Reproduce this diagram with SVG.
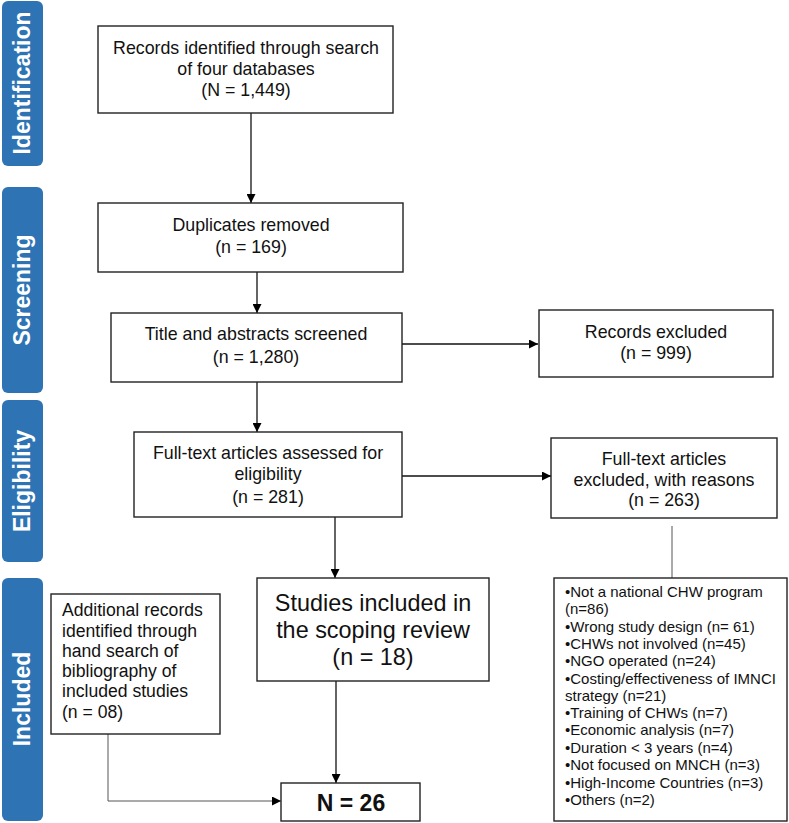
<svg xmlns="http://www.w3.org/2000/svg" width="789" height="823" viewBox="0 0 789 823">
<defs>
<marker id="ah" viewBox="0 0 10 10" refX="10" refY="5" markerWidth="9" markerHeight="9" markerUnits="userSpaceOnUse" orient="auto">
<path d="M0,0 L10,5 L0,10 z" fill="#000"/>
</marker>
<style>
.bar{fill:#2E74B5;}
.bt{font-family:"Liberation Sans",Arial,sans-serif;font-weight:bold;font-size:23px;fill:#fff;text-anchor:middle;}
.box{fill:#fff;stroke:#222;stroke-width:1.4;}
.t{font-family:"Liberation Sans",Arial,sans-serif;font-size:17.8px;fill:#111;text-anchor:middle;}
.tl{font-family:"Liberation Sans",Arial,sans-serif;font-size:17.6px;fill:#111;}
.tb{font-family:"Liberation Sans",Arial,sans-serif;font-size:23.4px;fill:#111;text-anchor:middle;}
.tn{font-family:"Liberation Sans",Arial,sans-serif;font-size:23px;font-weight:bold;fill:#111;text-anchor:middle;}
.ts{font-family:"Liberation Sans",Arial,sans-serif;font-size:15px;fill:#111;}
.c{fill:none;stroke:#111;stroke-width:1.3;}
.cg{fill:none;stroke:#555;stroke-width:1;}
</style>
</defs>
<rect width="789" height="823" fill="#fff"/>

<g id="phase-identification">
<rect class="bar" x="2" y="1" width="41" height="165" rx="6"/>
<text class="bt" transform="translate(30,83) rotate(-90)">Identification</text>
</g>
<g id="phase-screening">
<rect class="bar" x="2" y="187" width="41" height="206" rx="6"/>
<text class="bt" transform="translate(30,290) rotate(-90)">Screening</text>
</g>
<g id="phase-eligibility">
<rect class="bar" x="2" y="400" width="41" height="162" rx="6"/>
<text class="bt" transform="translate(30,481) rotate(-90)">Eligibility</text>
</g>
<g id="phase-included">
<rect class="bar" x="2" y="578" width="41" height="243" rx="6"/>
<text class="bt" transform="translate(30,699) rotate(-90)">Included</text>
</g>

<g id="connectors">
<line class="c" x1="251" y1="113" x2="251" y2="203" marker-end="url(#ah)"/>
<line class="c" x1="257" y1="272" x2="257" y2="313" marker-end="url(#ah)"/>
<line class="c" x1="402" y1="344" x2="538" y2="344" marker-end="url(#ah)"/>
<line class="c" x1="257" y1="382" x2="257" y2="432" marker-end="url(#ah)"/>
<line class="c" x1="402" y1="476" x2="551" y2="476" marker-end="url(#ah)"/>
<line class="c" x1="335" y1="517" x2="335" y2="578" marker-end="url(#ah)"/>
<line class="cg" x1="672" y1="526" x2="672" y2="578"/>
<line class="c" x1="336" y1="681" x2="336" y2="783" marker-end="url(#ah)"/>
<polyline class="cg" points="108,734 108,801 281,801" marker-end="url(#ah)"/>
</g>

<g id="records-identified">
<rect class="box" x="98" y="26" width="295" height="87"/>
<text class="t" x="246" y="54">Records identified through search</text>
<text class="t" x="246" y="75">of four databases</text>
<text class="t" x="246" y="96">(N = 1,449)</text>
</g>
<g id="duplicates-removed">
<rect class="box" x="98" y="203" width="305" height="69"/>
<text class="t" x="251" y="231">Duplicates removed</text>
<text class="t" x="251" y="253">(n = 169)</text>
</g>
<g id="title-abstracts">
<rect class="box" x="111" y="313" width="291" height="69"/>
<text class="t" x="256" y="340">Title and abstracts screened</text>
<text class="t" x="256" y="363">(n = 1,280)</text>
</g>
<g id="records-excluded">
<rect class="box" x="539" y="310" width="234" height="67"/>
<text class="t" x="656" y="338">Records excluded</text>
<text class="t" x="656" y="359">(n = 999)</text>
</g>
<g id="full-text-assessed">
<rect class="box" x="134" y="432" width="268" height="85"/>
<text class="t" x="268" y="459">Full-text articles assessed for</text>
<text class="t" x="268" y="480">eligibility</text>
<text class="t" x="268" y="503">(n = 281)</text>
</g>
<g id="full-text-excluded">
<rect class="box" x="551" y="438" width="226" height="80"/>
<text class="t" x="664" y="465">Full-text articles</text>
<text class="t" x="664" y="486">excluded, with reasons</text>
<text class="t" x="664" y="506">(n = 263)</text>
</g>
<g id="studies-included">
<rect class="box" x="257" y="578" width="232" height="103"/>
<text class="tb" x="373" y="611">Studies included in</text>
<text class="tb" x="373" y="638">the scoping review</text>
<text class="tb" x="373" y="665">(n = 18)</text>
</g>
<g id="additional-records">
<rect class="box" x="51" y="594" width="169" height="140"/>
<text class="tl" x="62" y="616">Additional records</text>
<text class="tl" x="62" y="637">identified through</text>
<text class="tl" x="62" y="657">hand search of</text>
<text class="tl" x="62" y="677">bibliography of</text>
<text class="tl" x="62" y="697">included studies</text>
<text class="tl" x="62" y="718">(n = 08)</text>
</g>
<g id="total">
<rect class="box" x="281" y="783" width="139" height="38"/>
<text class="tn" x="351" y="811">N = 26</text>
</g>
<g id="exclusion-reasons">
<rect class="box" x="554" y="578" width="233" height="243"/>
<text class="ts" x="565" y="597">•Not a national CHW program</text>
<text class="ts" x="565" y="614">(n=86)</text>
<text class="ts" x="565" y="632">•Wrong study design (n= 61)</text>
<text class="ts" x="565" y="649">•CHWs not involved (n=45)</text>
<text class="ts" x="565" y="666">•NGO operated (n=24)</text>
<text class="ts" x="565" y="684">•Costing/effectiveness of IMNCI</text>
<text class="ts" x="565" y="701">strategy (n=21)</text>
<text class="ts" x="565" y="718">•Training of CHWs (n=7)</text>
<text class="ts" x="565" y="735">•Economic analysis (n=7)</text>
<text class="ts" x="565" y="753">•Duration &lt; 3 years (n=4)</text>
<text class="ts" x="565" y="770">•Not focused on MNCH (n=3)</text>
<text class="ts" x="565" y="788">•High-Income Countries (n=3)</text>
<text class="ts" x="565" y="805">•Others (n=2)</text>
</g>
</svg>
